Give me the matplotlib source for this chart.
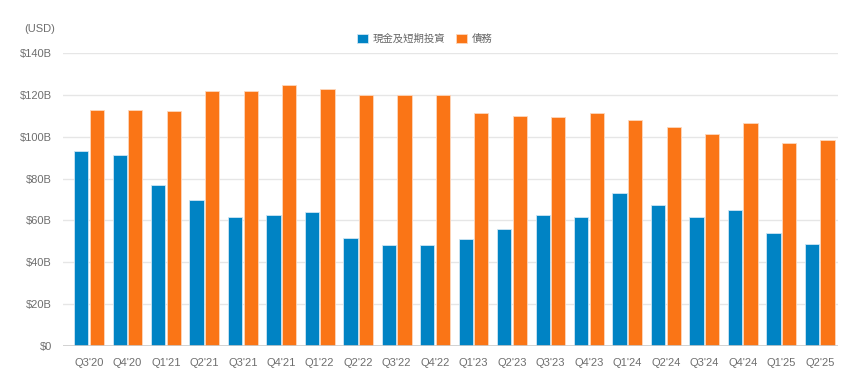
import numpy as np
import matplotlib
matplotlib.use('Agg')
import matplotlib.pyplot as plt

plt.rcParams['font.family'] = ['Liberation Sans', 'Noto Sans CJK TC']

quarters = ["Q3'20", "Q4'20", "Q1'21", "Q2'21", "Q3'21", "Q4'21", "Q1'22", "Q2'22",
            "Q3'22", "Q4'22", "Q1'23", "Q2'23", "Q3'23", "Q4'23", "Q1'24", "Q2'24",
            "Q3'24", "Q4'24", "Q1'25", "Q2'25"]
cash = [93.2, 91.1, 76.9, 69.8, 61.6, 62.6, 63.9, 51.4, 48.3, 48.3,
        51.3, 55.7, 62.4, 61.5, 73.1, 67.2, 61.8, 65.1, 53.8, 48.6]
debt = [112.9, 112.6, 112.1, 121.8, 122.0, 124.7, 122.9, 120.1, 119.8, 120.1,
        111.1, 109.7, 109.2, 111.1, 108.1, 104.6, 101.3, 106.7, 96.8, 98.2]
yticks = [0, 20, 40, 60, 80, 100, 120, 140]

blue = '#0083c4'
orange = '#fa7516'
grey = '#6e6e6e'

fig = plt.figure(figsize=(8.6, 3.9), dpi=100)
ax = fig.add_axes([63/860, 1 - 346/390, 775/860, 293/390])

x = np.arange(len(quarters))
w = 0.37
ax.bar(x - 0.203, cash, w, color=blue, edgecolor='#cfe6f3', linewidth=0.6,
       label='現金及短期投資', zorder=3)
ax.bar(x + 0.203, debt, w, color=orange, edgecolor='#fdd7bd', linewidth=0.6,
       label='債務', zorder=3)

ax.set_ylim(0, 140)
ax.set_xlim(-0.676, 19.476)
ax.set_yticks(yticks)
ax.set_yticklabels(['$%dB' % v if v else '$0' for v in yticks])
ax.set_xticks(x)
ax.set_xticklabels(quarters)
ax.grid(axis='y', color='#e6e6e6', linewidth=1, zorder=0)
ax.axhline(0, color='#cccccc', linewidth=1.2, zorder=4)
for s in ax.spines.values():
    s.set_visible(False)
ax.tick_params(axis='both', length=0, colors=grey, labelsize=8)
ax.tick_params(axis='x', pad=9)
ax.tick_params(axis='y', pad=8)

fig.text(24/860, 1 - 29/390, '(USD)', color=grey, fontsize=8, va='center', ha='left')
leg = ax.legend(loc='center', bbox_to_anchor=(425/860, 1 - 39/390), bbox_transform=fig.transFigure,
                ncol=2, frameon=False, prop={'family': ['Noto Sans CJK TC'], 'size': 7.5},
                labelcolor='#666666', handlelength=1.0, handleheight=1.0,
                handletextpad=0.5, columnspacing=1.0)

fig.savefig('out.png', dpi=100)
